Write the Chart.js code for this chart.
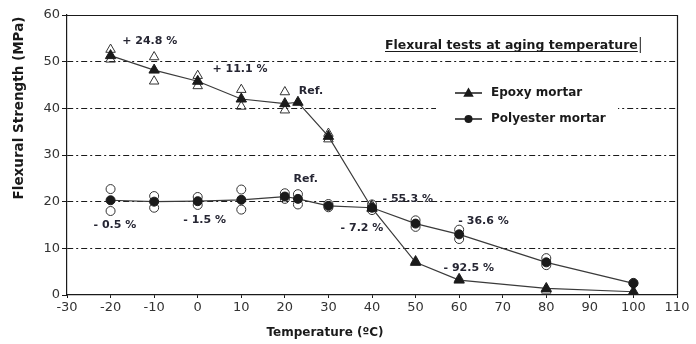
<!DOCTYPE html>
<html>
<head>
<meta charset="utf-8">
<script src="https://cdn.jsdelivr.net/npm/chart.js@4"></script>
<style>
  html, body { margin: 0; padding: 0; background: #fff; }
  canvas { display: block; }
</style>
</head>
<body>
<canvas id="chart" width="696" height="344"></canvas>
<script>
// Mean flexural strength (MPa) per aging temperature (°C)
const temperatures   = [-20, -10, 0, 10, 20, 23, 30, 40, 50, 60, 80, 100];
const epoxyMean      = [51.3, 48.2, 45.8, 42.0, 41.0, 41.3, 34.0, 18.6, 7.0, 3.2, 1.4, 0.7];
const polyesterMean  = [20.3, 20.0, 20.1, 20.4, 21.1, 20.6, 19.1, 18.7, 15.3, 13.0, 7.0, 2.5];

// Individual specimen results
const epoxySpecimenTemps     = [-20, -20, -10, -10, 0, 0, 10, 10, 20, 20, 30, 30, 40, 50, 60, 80, 100];
const epoxySpecimenValues    = [52.6, 50.5, 51.0, 45.8, 47.0, 44.8, 44.0, 40.4, 43.5, 39.6, 34.6, 33.4, 19.2, 7.3, 3.5, 1.0, 0.3];
const polyesterSpecimenTemps  = [-20, -20, -10, -10, 0, 0, 10, 10, 20, 20, 23, 23, 30, 30, 40, 40, 50, 50, 60, 60, 80, 80, 100];
const polyesterSpecimenValues = [22.7, 18.0, 21.2, 18.7, 21.0, 19.3, 22.6, 18.3, 21.8, 20.6, 21.6, 19.4, 19.5, 18.8, 19.4, 18.2, 16.0, 14.6, 14.0, 12.0, 7.9, 6.4, 2.6];

// Axis ticks
const xTickValues = [-30, -20, -10, 0, 10, 20, 30, 40, 50, 60, 70, 80, 90, 100, 110];
const yTickValues = [0, 10, 20, 30, 40, 50, 60];

// Strength change notes, placed at (temperature, strength)
const noteTexts  = ['+ 24.8 %', '+ 11.1 %', 'Ref.', 'Ref.', '- 0.5 %', '- 1.5 %', '- 7.2 %', '- 55.3 %', '- 36.6 %', '- 92.5 %'];
const noteTemps  = [-11.0, 9.7, 26.0, 24.8, -19.0, 1.6, 37.7, 48.2, 65.6, 62.2];
const noteValues = [54.3, 48.3, 43.6, 24.8, 15.0, 16.0, 14.3, 20.5, 15.8, 5.8];

const chartTitle = 'Flexural tests at aging temperature';
const xTitle = 'Temperature (ºC)';
const yTitle = 'Flexural Strength (MPa)';

const INK = '#1a1a1a';
const LINE = '#3a3a3a';

function toPoints(xs, ys) { return xs.map((x, i) => ({ x, y: ys[i] })); }

function drawTriangle(ctx, x, y, r, fill) {
  ctx.beginPath();
  ctx.moveTo(x, y - r);
  ctx.lineTo(x + r * 0.95, y + r * 0.7);
  ctx.lineTo(x - r * 0.95, y + r * 0.7);
  ctx.closePath();
  if (fill) { ctx.fillStyle = INK; ctx.fill(); } else { ctx.stroke(); }
}
function drawDot(ctx, x, y, r) {
  ctx.beginPath();
  ctx.arc(x, y, r, 0, Math.PI * 2);
  ctx.fillStyle = INK;
  ctx.fill();
}

const annotations = {
  id: 'annotations',
  afterDraw(chart) {
    const { ctx, chartArea: a, scales: { x, y } } = chart;
    ctx.save();

    // solid frame on top and right
    ctx.strokeStyle = INK;
    ctx.lineWidth = 1.2;
    ctx.beginPath();
    ctx.moveTo(a.left, a.top + 0.5);
    ctx.lineTo(a.right + 0.5, a.top + 0.5);
    ctx.lineTo(a.right + 0.5, a.bottom);
    ctx.stroke();

    // change notes
    ctx.fillStyle = '#262633';
    ctx.font = 'bold 11px "DejaVu Sans"';
    ctx.textAlign = 'center';
    ctx.textBaseline = 'middle';
    noteTexts.forEach((t, i) => {
      ctx.fillText(t, x.getPixelForValue(noteTemps[i]), y.getPixelForValue(noteValues[i]));
    });

    // underlined title with caret
    ctx.fillStyle = INK;
    ctx.font = 'bold 12.5px "DejaVu Sans"';
    ctx.textAlign = 'left';
    ctx.textBaseline = 'alphabetic';
    const tx = 385, ty = 49;
    ctx.fillText(chartTitle, tx, ty);
    const tw = ctx.measureText(chartTitle).width;
    ctx.lineWidth = 1;
    ctx.beginPath();
    ctx.moveTo(tx, ty + 2.5); ctx.lineTo(tx + tw, ty + 2.5);
    ctx.moveTo(tx + tw + 2.5, ty - 12); ctx.lineTo(tx + tw + 2.5, ty + 4);
    ctx.stroke();

    // legend
    ctx.fillStyle = '#fff';
    ctx.fillRect(436, 82, 182, 48);
    const rows = [
      { label: chart.data.datasets[0].label, yy: 93, tri: true },
      { label: chart.data.datasets[1].label, yy: 119, tri: false }
    ];
    ctx.font = 'bold 12px "DejaVu Sans"';
    ctx.textBaseline = 'middle';
    rows.forEach(r => {
      ctx.strokeStyle = INK;
      ctx.lineWidth = 1.5;
      ctx.beginPath();
      ctx.moveTo(455, r.yy); ctx.lineTo(482, r.yy);
      ctx.stroke();
      if (r.tri) drawTriangle(ctx, 468.5, r.yy, 5.5, true);
      else drawDot(ctx, 468.5, r.yy, 4);
      ctx.fillStyle = INK;
      ctx.fillText(r.label, 491, r.yy);
    });

    // axis titles
    ctx.font = 'bold 12px "DejaVu Sans"';
    ctx.textAlign = 'center';
    ctx.fillText(xTitle, 325, 333);
    ctx.save();
    ctx.translate(19, 108);
    ctx.rotate(-Math.PI / 2);
    ctx.font = 'bold 13.5px "DejaVu Sans"';
    ctx.fillText(yTitle, 0, 0);
    ctx.restore();

    ctx.restore();
  }
};

new Chart(document.getElementById('chart'), {
  type: 'scatter',
  data: {
    datasets: [
      {
        label: 'Epoxy mortar',
        data: toPoints(temperatures, epoxyMean),
        showLine: true,
        borderColor: LINE,
        borderWidth: 1.2,
        pointStyle: 'triangle',
        pointRadius: 6,
        pointBackgroundColor: INK,
        pointBorderColor: INK,
        pointBorderWidth: 1,
        order: 1
      },
      {
        label: 'Polyester mortar',
        data: toPoints(temperatures, polyesterMean),
        showLine: true,
        borderColor: LINE,
        borderWidth: 1.2,
        pointStyle: 'circle',
        pointRadius: 4.5,
        pointBackgroundColor: INK,
        pointBorderColor: INK,
        pointBorderWidth: 1,
        order: 2
      },
      {
        label: 'Epoxy specimens',
        data: toPoints(epoxySpecimenTemps, epoxySpecimenValues),
        showLine: false,
        pointStyle: 'triangle',
        pointRadius: 5.5,
        pointBackgroundColor: 'rgba(255,255,255,0)',
        pointBorderColor: '#333',
        pointBorderWidth: 1,
        order: 3
      },
      {
        label: 'Polyester specimens',
        data: toPoints(polyesterSpecimenTemps, polyesterSpecimenValues),
        showLine: false,
        pointStyle: 'circle',
        pointRadius: 4.5,
        pointBackgroundColor: 'rgba(255,255,255,0)',
        pointBorderColor: '#333',
        pointBorderWidth: 1,
        order: 4
      }
    ]
  },
  options: {
    responsive: false,
    animation: false,
    devicePixelRatio: 1,
    layout: { padding: { left: 0, right: 19, top: 15, bottom: 0 } },
    plugins: {
      legend: { display: false },
      tooltip: { enabled: false }
    },
    scales: {
      x: {
        type: 'linear',
        min: -30,
        max: 110,
        afterBuildTicks(s) { s.ticks = xTickValues.map(v => ({ value: v })); },
        afterFit(s) { s.height = 49; },
        grid: { drawOnChartArea: false, tickLength: 3, color: INK },
        border: { color: INK, width: 1.2 },
        ticks: { color: '#333', padding: 2, maxRotation: 0, font: { family: '"DejaVu Sans"', size: 13 } }
      },
      y: {
        min: 0,
        max: 60,
        afterBuildTicks(s) { s.ticks = yTickValues.map(v => ({ value: v })); },
        afterFit(s) { s.width = 67; },
        grid: {
          // the 0 and 60 lines are the solid frame, so only inner lines are dashed
          color: c => (c.tick && (c.tick.value === 0 || c.tick.value === 60)) ? 'rgba(0,0,0,0)' : INK,
          lineWidth: 1,
          tickLength: 5,
          tickColor: INK
        },
        border: { color: INK, width: 1.2, dash: [6, 3, 2, 3] },
        ticks: { color: '#333', padding: 2, font: { family: '"DejaVu Sans"', size: 13 } }
      }
    }
  },
  plugins: [annotations]
});
</script>
</body>
</html>
